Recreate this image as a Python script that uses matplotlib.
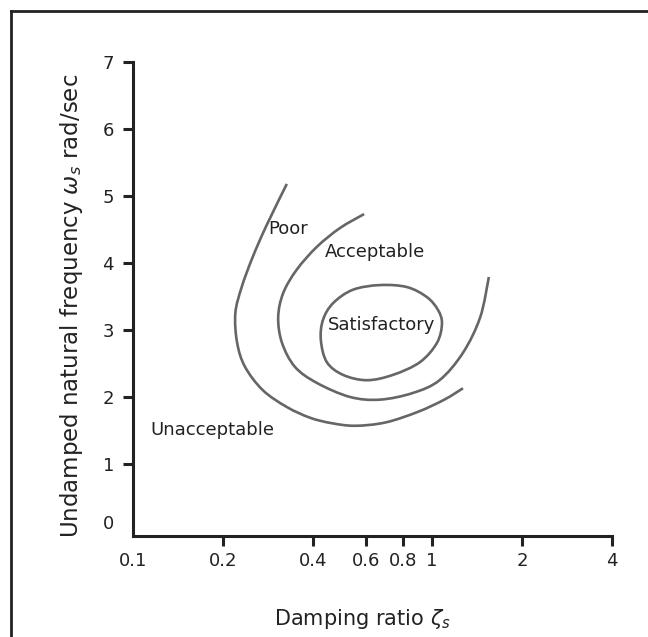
import matplotlib
matplotlib.use('Agg')
import numpy as np
import matplotlib.pyplot as plt
from matplotlib.lines import Line2D
from matplotlib.patches import PathPatch
from matplotlib.path import Path
from matplotlib.transforms import ScaledTranslation

# handling-quality boundaries: damping ratio vs. undamped natural frequency
poor_zeta = [0.327, 0.279, 0.251, 0.231, 0.220, 0.223, 0.237, 0.272, 0.327,
             0.391, 0.46, 0.553, 0.70, 0.90, 1.10, 1.27]
poor_omega = [5.18, 4.55, 4.08, 3.64, 3.25, 2.81, 2.45, 2.10, 1.85,
              1.69, 1.61, 1.57, 1.62, 1.78, 1.96, 2.13]

acc_zeta = [0.593, 0.492, 0.412, 0.353, 0.318, 0.306, 0.315, 0.348, 0.412,
            0.532, 0.670, 0.864, 1.06, 1.27, 1.45, 1.55]
acc_omega = [4.73, 4.52, 4.24, 3.90, 3.55, 3.19, 2.81, 2.45, 2.21,
             2.00, 1.96, 2.06, 2.25, 2.66, 3.19, 3.79]

sat_zeta = [0.670, 0.825, 0.962, 1.047, 1.08, 1.04, 0.912, 0.741,
            0.606, 0.504, 0.445, 0.425, 0.432, 0.467, 0.544]
sat_omega = [3.67, 3.64, 3.49, 3.30, 3.10, 2.81, 2.52, 2.33,
             2.25, 2.33, 2.52, 2.85, 3.15, 3.40, 3.60]

x_ticks = [0.1, 0.2, 0.4, 0.6, 0.8, 1, 2, 4]
x_tick_labels = ['0.1', '0.2', '0.4', '0.6', '0.8', '1', '2', '4']
y_ticks = [0, 1, 2, 3, 4, 5, 6, 7]

regions = [('Poor', 0.330, 4.50), ('Acceptable', 0.645, 4.16),
           ('Satisfactory', 0.68, 3.07), ('Unacceptable', 0.185, 1.51)]

text_color = '#222222'
curve_color = '#666666'
plt.rcParams['font.family'] = ['DejaVu Sans']


def smooth_path(zs, ws, closed=False):
    # Catmull-Rom through the points (log-x space), emitted as cubic Bezier segments
    p = np.column_stack([np.log10(zs), ws])
    n = len(p)
    if closed:
        pts = np.vstack([p[-1], p, p[0], p[1]])
    else:
        pts = np.vstack([p[0], p, p[-1]])
    verts = [p[0]]
    codes = [Path.MOVETO]
    segs = n if closed else n - 1
    for i in range(segs):
        p0, p1, p2, p3 = pts[i], pts[i + 1], pts[i + 2], pts[i + 3]
        verts += [p1 + (p2 - p0) / 6, p2 - (p3 - p1) / 6, p2]
        codes += [Path.CURVE4] * 3
    verts = np.array(verts)
    verts[:, 0] = 10 ** verts[:, 0]
    return Path(verts, codes)


fig = plt.figure(figsize=(6.48, 6.37), dpi=100)
ax = fig.add_axes([0.2052, 0.1586, 0.7392, 0.7441])

for zs, ws, closed in [(poor_zeta, poor_omega, False),
                       (acc_zeta, acc_omega, False),
                       (sat_zeta, sat_omega, True)]:
    ax.add_patch(PathPatch(smooth_path(zs, ws, closed), fill=False,
                           edgecolor=curve_color, lw=1.9, capstyle='butt'))

for name, zx, wy in regions:
    ax.text(zx, wy, name, ha='center', va='center', color=text_color, fontsize=13)

ax.set_xscale('log')
ax.set_xlim(0.1, 4)
ax.set_ylim(-0.075, 7)
ax.set_xticks(x_ticks)
ax.set_xticklabels(x_tick_labels)
ax.minorticks_off()
ax.set_yticks(y_ticks)
ax.tick_params(axis='both', length=7.2, width=2.2, colors=text_color,
               labelsize=13, labelcolor=text_color)
ax.tick_params(axis='y', pad=6.5)
ax.tick_params(axis='x', pad=4)

# no tick marks at the origin corner; lift the "0" label a little
ax.xaxis.get_major_ticks()[0].tick1line.set_visible(False)
ytick0 = ax.yaxis.get_major_ticks()[0]
ytick0.tick1line.set_visible(False)
ytick0.label1.set_transform(ytick0.label1.get_transform() +
                            ScaledTranslation(0, 9 / 100, fig.dpi_scale_trans))

for side in ['top', 'right']:
    ax.spines[side].set_visible(False)
for side in ['left', 'bottom']:
    ax.spines[side].set_linewidth(2.2)
    ax.spines[side].set_color(text_color)

ax.set_xlabel(r'Damping ratio $\zeta_s$', fontsize=15, color=text_color)
ax.xaxis.set_label_coords(0.478, -0.150)
ax.set_ylabel(r'Undamped natural frequency $\omega_s$ rad/sec', fontsize=16.5, color=text_color)
ax.yaxis.label.set_verticalalignment('center')
ax.yaxis.set_label_coords(-0.128, 0.485)

# frame lines along the top and left of the figure
fig.add_artist(Line2D([11 / 648, 1], [1 - 11 / 637, 1 - 11 / 637], color=text_color, lw=2))
fig.add_artist(Line2D([11 / 648, 11 / 648], [0, 1 - 11 / 637], color=text_color, lw=2))

fig.savefig('out.png', dpi=100)
